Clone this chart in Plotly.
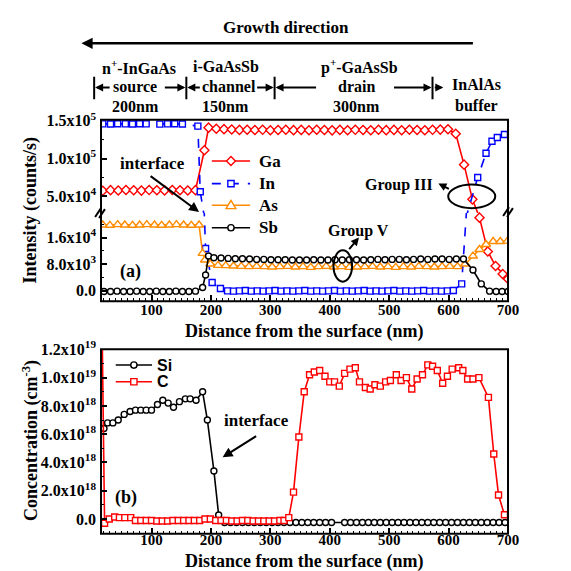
import plotly.graph_objects as go

W = H = 571
def PX(x): return x / W
def PY(y): return 1 - y / H

# ---------------- Panel (a) data: intensity (counts/s) vs depth (nm) ----------------
ga_x = [18, 31, 44, 57, 70, 83, 96, 109, 122, 135, 148, 161, 174, 189, 196,
        209, 222, 235, 248, 261, 274, 287, 300, 313, 326, 339, 352, 365, 378, 391, 404,
        417, 430, 443, 456, 469, 482, 495, 508, 521, 534, 547, 560, 573, 586, 599,
        612, 626, 640, 652, 666, 679, 691, 700]
ga_y = [57500, 58200, 57800, 58400, 58000, 57600, 58300, 58100, 57900, 58500, 58000, 57700, 58200,
        111000, 141000,
        139500, 139000, 138500, 138000, 138200, 137800, 138100, 137600, 137900, 138300, 137700,
        138000, 137500, 138200, 137800, 137400, 138000, 137600, 138100, 137900, 137500, 138200,
        137700, 138000, 137600, 138300, 137900, 137500, 138100, 138400, 138800,
        133000, 92000, 46000, 22000, 11800, 7400, 5000, 3500]

in_x = [18, 31, 43, 56, 68, 80, 91, 114, 127, 139, 152, 178, 182, 191, 202, 216,
        228, 238, 248, 258, 268, 278, 288, 298, 308, 318, 328, 338, 348, 358, 368, 378, 388,
        398, 408, 418, 428, 438, 448, 458, 468, 478, 488, 498, 508, 518, 528, 538, 548, 558,
        568, 578, 588, 598, 608,
        622, 649, 663, 673, 682, 694]
in_y = [146000, 145800, 146200, 146000, 145900, 146100, 146000, 145700, 146000, 146200, 145900,
        143000, 56000, 12700, 2400, 600,
        -100, -200, -100, 0, -200, -100, -200, -100, 0, -200, -100, -200, -100, 0, -200, -100, -200,
        -100, 0, -200, -100, -200, -100, 0, -200, -100, -200, -100, 0, -200, -100, -200, -100, 0,
        -200, -100, -200, -100, 0,
        2000, 75000, 107000, 123000, 128000, 132000]

as_x = [18, 30, 43, 55, 68, 80, 92, 105, 117, 130, 142, 154, 167, 180, 186, 190, 199,
        212, 225, 238, 251, 264, 277, 290, 303, 316, 329, 342, 355, 368, 381, 394, 407, 420,
        433, 446, 459, 472, 485, 498, 511, 524, 537, 550, 563, 576, 589, 602, 615, 628,
        641, 652, 663, 675, 687, 699]
as_y = [19800, 19700, 19900, 19800, 19700, 19800, 19900, 19800, 19700, 19800, 19900, 19800, 19700, 19800,
        11200, 9200, 8000,
        7600, 7500, 7400, 7300, 7200, 7300, 7200, 7100, 7200, 7300, 7100, 7200, 7000, 7200, 7300,
        7100, 7200, 7000, 7100, 7200, 7300, 7100, 7200, 7000, 7200, 7100, 7300, 7200, 7100, 7200,
        7300, 7200, 8000,
        10400, 12400, 13900, 14800, 14800, 14900]

sb_x = [20, 31, 42, 53, 64, 75, 86, 97, 108, 119, 130, 141, 152, 163, 174, 186, 191, 196,
        205, 217, 229, 241, 253, 265, 277, 289, 301, 313, 325, 337, 349, 361, 373, 385, 397, 409,
        421, 433, 445, 457, 469, 481, 493, 505, 517, 529, 541, 553, 565, 577, 589, 601, 613, 625,
        641, 655, 669, 680, 690, 700]
sb_y = [-300, -300, -200, -300, -300, -200, -300, -300, -200, -300, -300, -200, -300, -300, -200,
        900, 4700, 10400,
        9900, 9800, 9700, 9600, 9600, 9500, 9400, 9400, 9300, 9300, 9300, 9200, 9200, 9200, 9300,
        9200, 9200, 9300, 9200, 9300, 9300, 9200, 9300, 9400, 9300, 9400, 9400, 9300, 9400, 9500,
        9400, 9500, 9500, 9400, 9500, 9500,
        6200, 2000, -200, -300, -300, -300]

# ---------------- Panel (b) data: concentration (cm^-3) vs depth (nm) ----------------
si_x = [20, 26, 35, 44, 54, 64, 73, 82, 91, 100, 110, 119, 128, 137, 147, 157, 165, 175, 186, 194, 205, 213,
        223, 233, 243, 253, 263, 273, 283, 293, 303, 313, 323, 333, 343, 353, 363, 373, 383, 393, 403,
        425, 435, 445, 455, 465, 475, 485, 495, 505, 515, 525, 535, 545, 555, 565, 575, 585, 595, 605,
        615, 625, 635, 645, 655, 665, 675, 685, 695]
si_y = [6.4e18, 6.8e18, 6.8e18, 7.0e18, 7.4e18, 7.6e18, 7.7e18, 7.7e18, 7.7e18, 7.7e18, 8.1e18, 8.4e18,
        8.2e18, 7.9e18, 8.3e18, 8.5e18, 8.5e18, 8.4e18, 9.0e18, 7.0e18, 3.4e18, 2.8e17,
        -2.5e17, -2.5e17, -2.5e17, -2.5e17, -2.5e17, -2.5e17, -2.5e17, -2.5e17, -2.5e17, -2.5e17,
        -2.5e17, -2.5e17, -2.5e17, -2.5e17, -2.5e17, -2.5e17, -2.5e17, -2.5e17, -2.5e17,
        -2.5e17, -2.5e17, -2.5e17, -2.5e17, -2.5e17, -2.5e17, -2.5e17, -2.5e17, -2.5e17, -2.5e17,
        -2.5e17, -2.5e17, -2.5e17, -2.5e17, -2.5e17, -2.5e17, -2.5e17, -2.5e17, -2.5e17,
        -2.5e17, -2.5e17, -2.5e17, -2.5e17, -2.5e17, -2.5e17, -2.5e17, -2.5e17, -2.5e17]

c_x = [17, 21, 29, 38, 46, 55, 65, 73, 82, 91, 100, 109, 118, 127, 136, 145, 154, 163, 172, 181,
       190, 199, 208, 217, 226, 235, 244, 253, 262, 271, 280, 289, 298, 307, 316, 323,
       331, 339, 348, 357, 366, 374, 383, 392, 400, 408, 416, 425, 434, 443, 450, 460, 468, 476,
       485, 494, 502, 512, 520, 529, 538, 547, 556, 565, 573, 581, 590, 598, 606, 617, 624, 632,
       641, 651, 667, 676, 684, 694]
c_y = [1.3e19, -3e17, 0, 1.4e17, 1e17, 1e17, 1e17, -1e17, -1e17, -1e17, -1e17, -1.4e17, -1.4e17,
       -1.4e17, -1e17, -1e17, -1e17, -1e17, -1e17, -1e17, 0, 0, -1e17, -1e17, -1e17, -1.4e17,
       -1.4e17, -1e17, -1e17, -1.4e17, -1.4e17, -1.4e17, -1.4e17, -1.4e17, -1e17, -1e17,
       1e17, 1.9e18, 5.8e18, 9.0e18, 1.02e19, 1.04e19, 1.05e19, 1.01e19, 9.7e18, 9.7e18, 9.4e18,
       1.03e19, 1.06e19, 1.07e19, 9.7e18, 9.3e18, 9.2e18, 9.5e18, 9.4e18, 9.7e18, 9.8e18, 1.02e19,
       9.8e18, 1.0e19, 9.2e18, 9.9e18, 1.02e19, 1.09e19, 1.08e19, 1.05e19, 9.6e18, 1.01e19,
       1.06e19, 1.07e19, 1.05e19, 9.9e18, 9.9e18, 1.0e19, 8.6e18, 4.6e18, 1.7e18, 3e17]

for a, b in [(ga_x, ga_y), (in_x, in_y), (as_x, as_y), (sb_x, sb_y), (si_x, si_y), (c_x, c_y)]:
    assert len(a) == len(b), (len(a), len(b))

# tick labels
x_ticks = [100, 200, 300, 400, 500, 600, 700]
ya_up_vals = [5e4, 1e5, 1.5e5]
ya_up_text = ["5.0x10<sup>4</sup>", "1.0x10<sup>5</sup>", "1.5x10<sup>5</sup>"]
ya_lo_vals = [0, 8000, 16000]
ya_lo_text = ["0.0", "8.0x10<sup>3</sup>", "1.6x10<sup>4</sup>"]
yb_vals = [0, 2e18, 4e18, 6e18, 8e18, 1e19, 1.2e19]
yb_text = ["0.0", "2.0x10<sup>18</sup>", "4.0x10<sup>18</sup>", "6.0x10<sup>18</sup>",
           "8.0x10<sup>18</sup>", "1.0x10<sup>19</sup>", "1.2x10<sup>19</sup>"]

SERIF = "Liberation Serif"
SANS = "Liberation Sans"
RED, BLUE, ORANGE, BLACK = "#FF0000", "#0000FF", "#FF8C00", "#000000"

fig = go.Figure()

series_a = [
    ("Ga", ga_x, ga_y, RED, "diamond", 7, "solid", 153),
    ("In", in_x, in_y, BLUE, "square", 6, "dash", 176),
    ("As", as_x, as_y, ORANGE, "triangle-up", 8, "solid", 198),
    ("Sb", sb_x, sb_y, BLACK, "circle", 6, "solid", 221),
]
for name, xs, ys, col, sym, sz, dash, _ in series_a:
    for yax in ("y", "y2"):
        fig.add_trace(go.Scatter(
            x=xs, y=ys, xaxis="x", yaxis=yax, name=name, showlegend=False,
            mode="lines+markers", line=dict(color=col, width=1.6, dash=dash),
            marker=dict(symbol=sym, size=sz, color="white", line=dict(color=col, width=1.4)),
        ))

series_b = [("Si", si_x, si_y, BLACK, "circle", 6, 361),
            ("C", c_x, c_y, RED, "square", 6, 378)]
for name, xs, ys, col, sym, sz, _ in series_b:
    fig.add_trace(go.Scatter(
        x=xs, y=ys, xaxis="x3", yaxis="y3", name=name, showlegend=False,
        mode="lines+markers", line=dict(color=col, width=1.6),
        marker=dict(symbol=sym, size=sz, color="white", line=dict(color=col, width=1.4)),
    ))

XL, XR = 103, 518
A_TOP, A_BRK, A_BOT = 111, 206, 296
B_TOP, B_BOT = 345, 533

tickfont_x = dict(family=SERIF, size=15, color="black", weight="bold")
tickfont_y = dict(family=SERIF, size=16, color="black", weight="bold")
common = dict(showgrid=False, zeroline=False, showline=False, ticks="inside",
              ticklen=6, tickwidth=1.5, tickcolor="black")

def minor(d):
    return dict(ticks="inside", ticklen=3, tickwidth=1.2, tickcolor="black",
                tickmode="linear", tick0=0, dtick=d)

fig.update_layout(
    width=W, height=H, autosize=False, showlegend=False,
    margin=dict(l=0, r=0, t=0, b=0),
    paper_bgcolor="white", plot_bgcolor="white",
    xaxis=dict(domain=[PX(XL), PX(XR)], range=[15, 700], anchor="y2",
               tickvals=x_ticks, tickfont=tickfont_x, minor=minor(10),
               ticklabelstandoff=-2, **common),
    yaxis=dict(domain=[PY(A_BRK), PY(A_TOP)], range=[27900, 151300], anchor="x",
               tickvals=ya_up_vals, ticktext=ya_up_text, tickfont=tickfont_y,
               minor=minor(25000), ticklabelstandoff=4, **common),
    yaxis2=dict(domain=[PY(A_BOT), PY(A_BRK)], range=[-3260, 23400], anchor="x",
                tickvals=ya_lo_vals, ticktext=ya_lo_text, tickfont=tickfont_y,
                minor=minor(4000), ticklabelstandoff=4, **common),
    xaxis3=dict(domain=[PX(XL), PX(XR)], range=[15, 700], anchor="y3",
                tickvals=x_ticks, tickfont=tickfont_x, minor=minor(10),
                ticklabelstandoff=-5, **common),
    yaxis3=dict(domain=[PY(B_BOT), PY(B_TOP)], range=[-1.04e18, 1.2e19], anchor="x3",
                tickvals=yb_vals, ticktext=yb_text, tickfont=tickfont_y,
                minor=minor(1e18), ticklabelstandoff=4, **common),
)

shapes = []
def pline(x0, y0, x1, y1, color="black", width=2, dash="solid"):
    shapes.append(dict(type="line", xref="paper", yref="paper", x0=PX(x0), y0=PY(y0),
                       x1=PX(x1), y1=PY(y1), line=dict(color=color, width=width, dash=dash)))

def P(x, y):
    return f"{PX(x):.5f},{PY(y):.5f}"

def glyph(sym, cx, cy, col):
    style = dict(xref="paper", yref="paper", fillcolor="white", line=dict(color=col, width=1.4))
    if sym == "diamond":
        r = 4.6
        shapes.append(dict(type="path", path=f"M{P(cx, cy - r)}L{P(cx + r, cy)}L{P(cx, cy + r)}L{P(cx - r, cy)}Z", **style))
    elif sym == "triangle-up":
        shapes.append(dict(type="path", path=f"M{P(cx, cy - 5)}L{P(cx + 5, cy + 3.5)}L{P(cx - 5, cy + 3.5)}Z", **style))
    elif sym == "square":
        shapes.append(dict(type="rect", x0=PX(cx - 3.2), x1=PX(cx + 3.2), y0=PY(cy + 3.2), y1=PY(cy - 3.2), **style))
    else:
        shapes.append(dict(type="circle", x0=PX(cx - 3.2), x1=PX(cx + 3.2), y0=PY(cy + 3.2), y1=PY(cy - 3.2), **style))

# frames
for top, bot in ((A_TOP, A_BOT), (B_TOP, B_BOT)):
    shapes.append(dict(type="rect", xref="paper", yref="paper", x0=PX(XL), x1=PX(XR),
                       y0=PY(bot), y1=PY(top), line=dict(color="black", width=2)))
# axis-break marks
for (x0, y0, x1, y1) in [(97, 210, 103, 201), (101, 211, 107, 202),
                         (513, 209, 519, 200), (517, 210, 523, 201)]:
    pline(x0, y0, x1, y1)
# ellipses
for (x0, y0, x1, y1) in [(340, 244, 359, 276), (457, 177, 505, 201)]:
    shapes.append(dict(type="circle", xref="paper", yref="paper", x0=PX(x0), x1=PX(x1),
                       y0=PY(y1), y1=PY(y0), line=dict(color="black", width=2)))
# layer bars in header
for bx in (96, 190, 280, 441):
    pline(bx, 90, bx, 67)

ann = []
def text(x, y, s, size=16, family=SERIF, angle=0, xanchor="center"):
    ann.append(dict(x=PX(x), y=PY(y), xref="paper", yref="paper", text=s, showarrow=False,
                    xanchor=xanchor, yanchor="middle", textangle=angle,
                    font=dict(family=family, size=size, color="black", weight="bold")))

def arrow(hx, hy, tx, ty, width=2, size=1.0):
    ann.append(dict(x=PX(hx), y=PY(hy), xref="paper", yref="paper", text="",
                    showarrow=True, ax=tx - hx, ay=ty - hy, axref="pixel", ayref="pixel",
                    arrowhead=2, arrowsize=size, arrowwidth=width, arrowcolor="black",
                    standoff=0, startstandoff=0))

# hand-drawn legends
for name, xs, ys, col, sym, sz, dash, ry in series_a:
    pline(216, ry, 255, ry, color=col, width=1.6, dash=dash)
    glyph(sym, 235.5, ry, col)
    text(262, ry, name, 17, xanchor="left")
for name, xs, ys, col, sym, sz, ry in series_b:
    pline(118, ry, 155, ry, color=col, width=1.6)
    glyph(sym, 136.5, ry, col)
    text(158, ry, name, 16, family=SANS, xanchor="left")

fig.update_layout(shapes=shapes)

# header
text(292, 17, "Growth direction", 17)
arrow(83, 33, 476, 33, width=2.5, size=0.9)
text(142, 57, "n<sup>+</sup>-InGaAs")
text(138, 77, "source")
text(138, 97, "200nm")
text(230, 57, "i-GaAsSb")
text(233, 77, "channel")
text(230, 97, "150nm")
text(367, 57, "p<sup>+</sup>-GaAsSb")
text(363, 77, "drain")
text(363, 97, "300nm")
text(486, 75, "InAlAs")
text(486, 96, "buffer")
for hx, tx in [(97, 113), (189, 167), (191, 205), (279, 261), (281, 323), (440, 401), (452, 442)]:
    arrow(hx, 78, tx, 78, width=2, size=0.8)

# axis titles
text(310, 327, "Distance from the surface (nm)", 18)
text(310, 561, "Distance from the surface (nm)", 18)
text(31, 203, "Intensity (counts/s)", 18, angle=-90)
text(31, 438, "Concentration (cm<sup>-3</sup>)", 18, angle=-90)

# panel annotations
text(133, 266, "(a)", 18)
text(128, 496, "(b)", 18)
text(156, 156, "interface", 17)
arrow(203, 205, 153, 168, width=2)
text(366, 224, "Group V", 16)
arrow(366, 231, 355, 244, width=2, size=0.8)
text(407, 177, "Group III", 16)
arrow(447, 176, 459, 182, width=2, size=0.8)
text(262, 418, "interface", 17)
arrow(227, 455, 262, 433, width=2)

fig.update_layout(annotations=ann)

# pin the 571x571 figure to the top-left of the page and clip anything outside it
pin_page = (
    "document.documentElement.style.margin='0';"
    "document.documentElement.style.overflow='hidden';"
    "document.body.style.margin='0';document.body.style.overflow='hidden';"
    "var gd=document.getElementById('{plot_id}');"
    "gd.style.position='fixed';gd.style.left='0px';gd.style.top='0px';"
    "gd.style.overflow='hidden';"
    "gd.querySelectorAll('.svg-container, svg.main-svg').forEach(function(e){e.style.overflow='hidden';});"
)
fig.write_html("out.html", config={"displayModeBar": False}, post_script=pin_page)
